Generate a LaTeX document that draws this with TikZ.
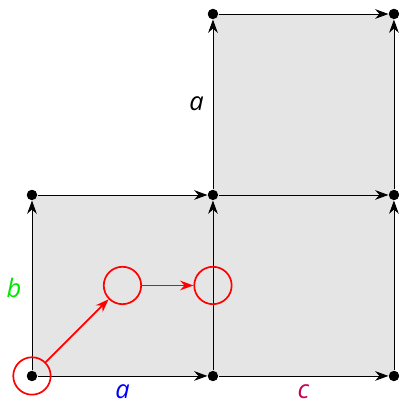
\documentclass[tikz,border=0pt]{standalone}
\usepackage{fontspec}
\setmainfont{Open Sans}
\usetikzlibrary{arrows.meta}
\definecolor{labelgreen}{RGB}{0,230,0}
\definecolor{labelred}{RGB}{200,0,80}
\begin{document}
\begin{tikzpicture}[
    vertex/.style={circle, fill=black, inner sep=0pt, minimum size=0.17cm},
    cell/.style={fill=black!10},
    side/.style={-{Stealth[length=2.2mm,width=1.6mm]}, thin},
    spot/.style={circle, draw=red, thick, inner sep=0pt, minimum size=0.62cm},
    hop/.style={-{Stealth[length=2.2mm,width=1.6mm]}, red, thick},
    lbl/.style={font=\large\itshape, inner sep=0.5pt, text depth=0pt}
]
\useasboundingbox (-0.53,-0.415) rectangle (6.116,6.232);

% Vertices
\node[vertex] (p00) at (0, 0) {};
\node[vertex] (p10) at (3, 0) {};
\node[vertex] (p20) at (6, 0) {};
\node[vertex] (p01) at (0, 3) {};
\node[vertex] (p11) at (3, 3) {};
\node[vertex] (p21) at (6, 3) {};
\node[vertex] (p12) at (3, 6) {};
\node[vertex] (p22) at (6, 6) {};

% Cells
\fill[cell] (p00.center) rectangle (p11.center);
\fill[cell] (p10.center) rectangle (p21.center);
\fill[cell] (p11.center) rectangle (p22.center);

% Sides
\draw[side] (p00) -- (p10);
\draw[side] (p10) -- (p20);
\draw[side] (p01) -- (p11);
\draw[side] (p11) -- (p21);
\draw[side] (p12) -- (p22);
\draw[side] (p00) -- (p01);
\draw[side] (p10) -- (p11);
\draw[side] (p20) -- (p21);
\draw[side] (p11) -- (p12);
\draw[side] (p21) -- (p22);

% Redraw vertices on top
\foreach \p in {p00,p10,p20,p01,p11,p21,p12,p22}
    \fill (\p) circle (0.085);

% Path
\node[spot] (c1) at (p00) {};
\node[spot] (c2) at (1.5, 1.5) {};
\node[spot] (c3) at (3, 1.5) {};
\draw[hop] (c1) -- (c2);
\draw[hop] (c2) -- (c3);

% Labels
\node[lbl, text=blue] (la) at (1.5, -0.26) {a};
\node[lbl, text=labelred] (lc) at (4.5, -0.26) {c};
\node[lbl, text=labelgreen] (lb) at (-0.3, 1.46) {b};
\node[lbl] (lt) at (2.73, 4.52) {a};

\end{tikzpicture}
\end{document}
